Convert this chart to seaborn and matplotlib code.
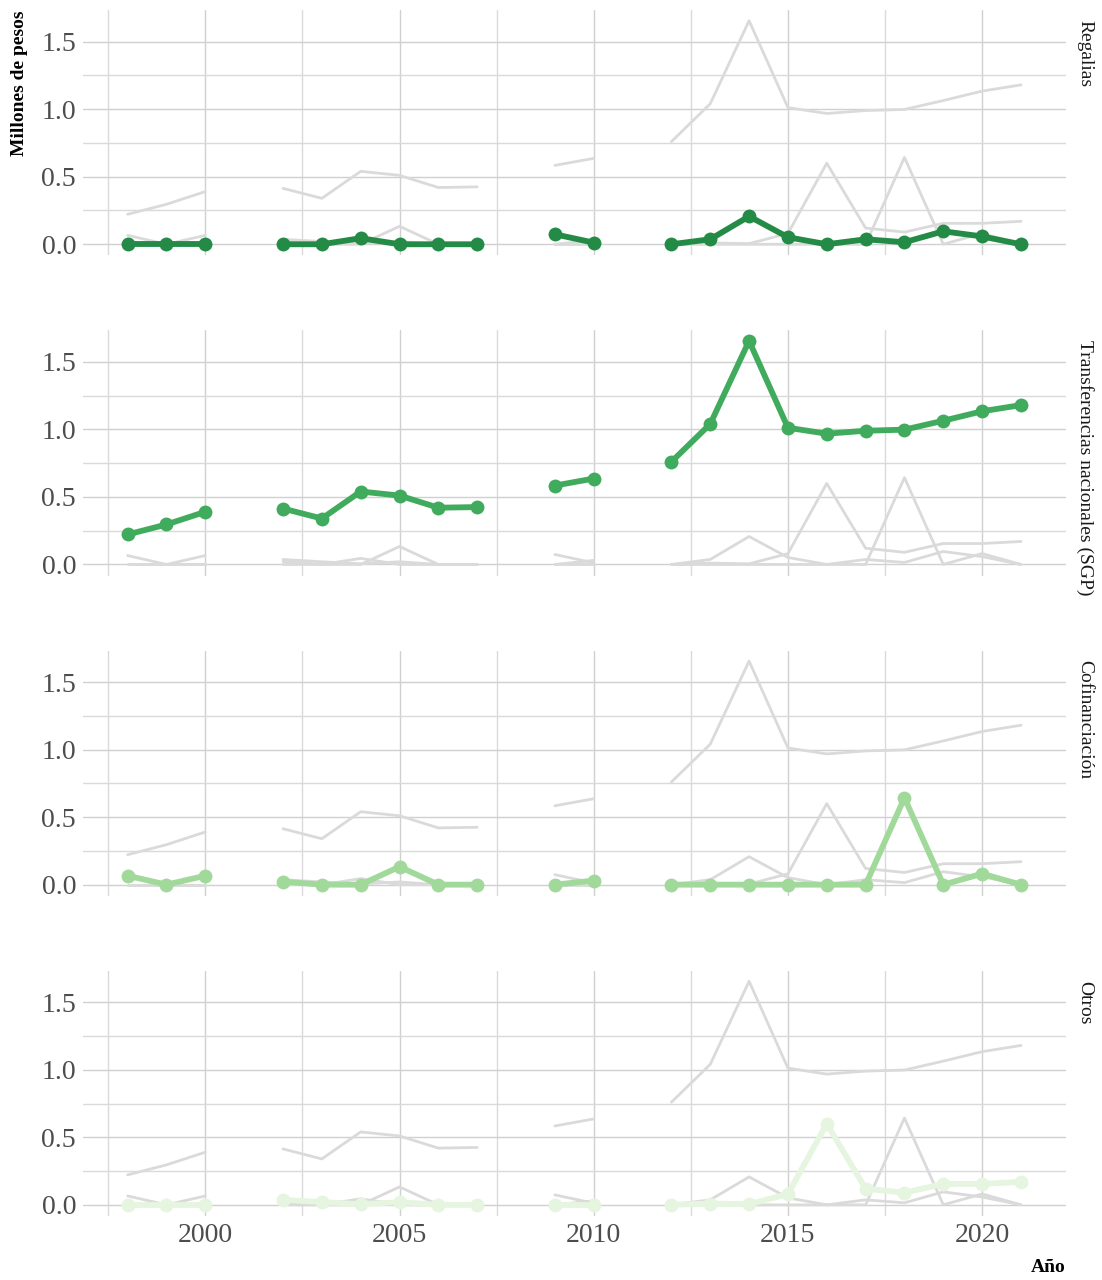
import numpy as np
import pandas as pd
import matplotlib
matplotlib.use('Agg')
import matplotlib.pyplot as plt
import seaborn as sns
from matplotlib.ticker import FixedLocator, FuncFormatter

# Datos
years = [1998, 1999, 2000, 2002, 2003, 2004, 2005, 2006, 2007, 2009, 2010,
         2012, 2013, 2014, 2015, 2016, 2017, 2018, 2019, 2020, 2021]
regalias = [0.0, 0.0, 0.0, 0.0, 0.0, 0.045, 0.0, 0.0, 0.0, 0.074, 0.012,
            0.0, 0.037, 0.207, 0.052, 0.0, 0.037, 0.015, 0.096, 0.058, 0.0]
sgp = [0.222, 0.296, 0.39, 0.414, 0.34, 0.54, 0.51, 0.42, 0.425, 0.584, 0.636,
       0.76, 1.04, 1.655, 1.012, 0.968, 0.99, 0.998, 1.064, 1.134, 1.18]
cofinanciacion = [0.066, 0.0, 0.066, 0.022, 0.0, 0.0, 0.133, 0.0, 0.0, 0.0, 0.03,
                  0.0, 0.0, 0.0, 0.0, 0.0, 0.0, 0.643, 0.0, 0.081, 0.0]
otros = [0.0, 0.0, 0.0, 0.037, 0.02, 0.005, 0.02, 0.0, 0.0, 0.0, 0.0,
         0.0, 0.01, 0.005, 0.08, 0.6, 0.12, 0.09, 0.155, 0.155, 0.17]

series = ['Regalias', 'Transferencias nacionales (SGP)', 'Cofinanciación', 'Otros']
values = [regalias, sgp, cofinanciacion, otros]
colors = ['#238b45', '#41ab5d', '#a1d99b', '#e5f5e0']

# tramos continuos (cortes en años faltantes)
tramo = np.concatenate([[0], np.cumsum(np.diff(years) > 1)])

frames = []
for name, vals in zip(series, values):
    frames.append(pd.DataFrame({'Año': years, 'valor': vals, 'serie': name, 'tramo': tramo}))
df = pd.concat(frames, ignore_index=True)
df['unidad'] = df['serie'] + '_' + df['tramo'].astype(str)

sns.set_theme(style='white')
plt.rcParams['font.family'] = ['Liberation Serif', 'DejaVu Serif']

fig, axes = plt.subplots(4, 1, figsize=(11.02, 12.8), dpi=100, sharex=True, sharey=True)
fig.subplots_adjust(left=0.0753, right=0.967, top=0.992, bottom=0.05, hspace=0.306)

for ax, name, color in zip(axes, series, colors):
    sns.lineplot(data=df, x='Año', y='valor', units='unidad', estimator=None,
                 color='#dadada', linewidth=2, ax=ax, zorder=2)
    sub = df[df['serie'] == name]
    sns.lineplot(data=sub, x='Año', y='valor', units='tramo', estimator=None,
                 color=color, linewidth=4.2, marker='o', markersize=10,
                 markeredgewidth=0, ax=ax, zorder=3)
    ax.set_xlim(1996.85, 2022.15)
    ax.set_ylim(-0.0825, 1.7325)
    ax.yaxis.set_major_locator(FixedLocator([0, 0.5, 1.0, 1.5]))
    ax.yaxis.set_minor_locator(FixedLocator([0.25, 0.75, 1.25]))
    ax.xaxis.set_major_locator(FixedLocator([2000, 2005, 2010, 2015, 2020]))
    ax.xaxis.set_minor_locator(FixedLocator([1997.5, 2002.5, 2007.5, 2012.5, 2017.5]))
    ax.yaxis.set_major_formatter(FuncFormatter(lambda v, p: f'{v:.1f}'))
    ax.grid(which='major', color='#d0d0d0', linewidth=1.0, zorder=0)
    ax.grid(which='minor', color='#dadada', linewidth=1.0, zorder=0)
    ax.set_axisbelow(True)
    for s in ax.spines.values():
        s.set_visible(False)
    ax.tick_params(which='both', length=0, labelsize=20, labelcolor='#4d4d4d', pad=5)
    ax.set_xlabel('')
    ax.set_ylabel('')
    ax.text(1.011, 0.96, name, transform=ax.transAxes, rotation=-90,
            ha='left', va='top', fontsize=14, color='#1a1a1a', clip_on=False)

fig.text(0.018, 0.992, 'Millones de pesos', rotation=90, ha='center', va='top',
         fontsize=14, fontweight='bold', color='black')
fig.text(0.967, 1 - 1267 / 1280, 'Año', ha='right', va='center', fontsize=14,
         fontweight='bold', color='black')

fig.savefig('out.png', dpi=100)
